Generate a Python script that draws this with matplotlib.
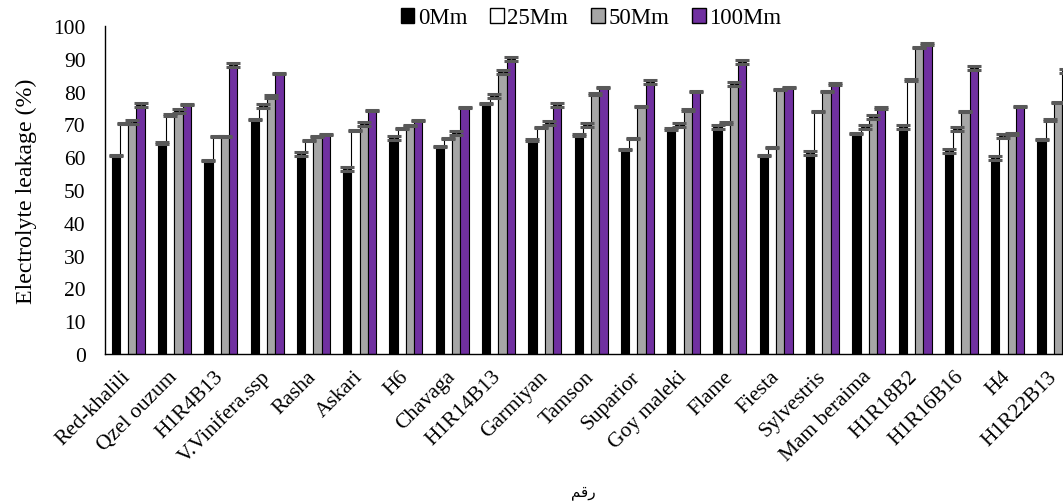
import matplotlib
matplotlib.use("Agg")
import matplotlib.pyplot as plt
import numpy as np
from matplotlib.patches import Patch

plt.rcParams['font.family'] = ['Liberation Serif', 'DejaVu Sans']

cultivars = ["Red-khalili", "Qzel ouzum", "H1R4B13", "V.Vinifera.ssp", "Rasha", "Askari",
             "H6", "Chavaga", "H1R14B13", "Garmiyan", "Tamson", "Suparior", "Goy maleki",
             "Flame", "Fiesta", "Sylvestris", "Mam beraima", "H1R18B2", "H1R16B16", "H4",
             "H1R22B13"]

series_names = ["0Mm", "25Mm", "50Mm", "100Mm"]

el_0 = [60.5, 64.3, 58.9, 71.6, 61.0, 56.3, 65.9, 63.2, 76.4, 65.2, 66.8, 62.3, 68.6,
        69.3, 60.5, 61.3, 67.3, 69.1, 61.8, 59.8, 65.5]
el_25 = [70.3, 72.9, 66.3, 75.7, 65.0, 68.1, 68.8, 65.7, 78.8, 69.1, 69.8, 65.7, 69.8,
         70.4, 63.0, 74.0, 69.3, 83.5, 68.6, 66.6, 71.3]
el_50 = [70.8, 74.2, 66.3, 78.5, 66.3, 70.1, 69.6, 67.4, 85.9, 70.3, 79.3, 75.5, 74.4,
         82.3, 80.6, 80.1, 72.4, 93.5, 74.0, 67.1, 76.7]
el_100 = [75.9, 76.0, 88.1, 85.6, 66.9, 74.2, 71.1, 75.1, 89.9, 75.9, 81.3, 82.8, 80.1,
          88.9, 81.3, 82.3, 75.0, 94.5, 87.2, 75.4, 86.2]

err_0 = [0.2, 0.2, 0.2, 0.2, 0.6, 0.6, 0.6, 0.2, 0.2, 0.2, 0.2, 0.2, 0.2,
         0.6, 0.2, 0.6, 0.2, 0.6, 0.6, 0.6, 0.2]
err_25 = [0.2, 0.2, 0.2, 0.6, 0.2, 0.2, 0.2, 0.2, 0.6, 0.2, 0.6, 0.2, 0.6,
          0.2, 0.2, 0.2, 0.6, 0.2, 0.6, 0.6, 0.2]
err_50 = [0.6, 0.6, 0.2, 0.6, 0.2, 0.6, 0.2, 0.6, 0.6, 0.6, 0.2, 0.2, 0.2,
          0.6, 0.2, 0.2, 0.6, 0.2, 0.2, 0.2, 0.2]
err_100 = [0.6, 0.2, 0.6, 0.2, 0.2, 0.2, 0.2, 0.2, 0.6, 0.6, 0.2, 0.6, 0.2,
           0.6, 0.2, 0.2, 0.2, 0.2, 0.6, 0.2, 0.6]

yticks = [0, 10, 20, 30, 40, 50, 60, 70, 80, 90, 100]

colors = ["#000000", "#FFFFFF", "#A6A6A6", "#7030A0"]
values = [el_0, el_25, el_50, el_100]
errors = [err_0, err_25, err_50, err_100]

fig = plt.figure(figsize=(10.63, 5.02), dpi=100)
ax = fig.add_axes([0.0988, 0.2928, 0.9144, 0.6534])

x = np.arange(len(cultivars))
w = 0.178
for i, (vals, errs, col) in enumerate(zip(values, errors, colors)):
    pos = x + (i - 1.5) * w
    ax.bar(pos, vals, width=w, color=col, edgecolor="black", linewidth=0.8, zorder=2)
    ax.errorbar(pos, vals, yerr=errs, fmt="none", ecolor="#595959", elinewidth=1.0,
                capsize=5, capthick=2.2, zorder=3)

ax.set_xlim(-0.5, len(cultivars) - 0.5)
ax.set_ylim(0, 100)
ax.set_yticks(yticks)
ax.set_yticklabels([str(t) for t in yticks], fontsize=15.5)
ax.set_xticks(x)
ax.set_xticklabels(cultivars, rotation=45, ha="right", va="center",
                   rotation_mode="anchor", fontsize=15.5)
ax.tick_params(axis="both", length=0)
ax.tick_params(axis="x", pad=14)
ax.tick_params(axis="y", pad=14)

for s in ["top", "right"]:
    ax.spines[s].set_visible(False)
ax.spines["left"].set_linewidth(1.0)
ax.spines["bottom"].set_linewidth(1.0)

ax.set_ylabel("Electrolyte leakage (%)", fontsize=17.2, labelpad=12)

# Arabic axis label, written in presentation forms so the joined glyphs read right-to-left
fig.text(583 / 1063, 1 - 493 / 502, "\uFEE2\uFED7\uFEAD", family=["DejaVu Sans"],
         fontsize=11, ha="center", va="center")

handles = [Patch(facecolor=c, edgecolor="black", linewidth=1.0) for c in colors]
fig.legend(handles, series_names, loc="center", bbox_to_anchor=(591 / 1063, 1 - 19 / 502),
           ncol=4, frameon=False, fontsize=16.5, handlelength=0.6, handleheight=0.6,
           handletextpad=0.15, columnspacing=1.0, borderpad=0)

fig.savefig("out.png", dpi=100)
